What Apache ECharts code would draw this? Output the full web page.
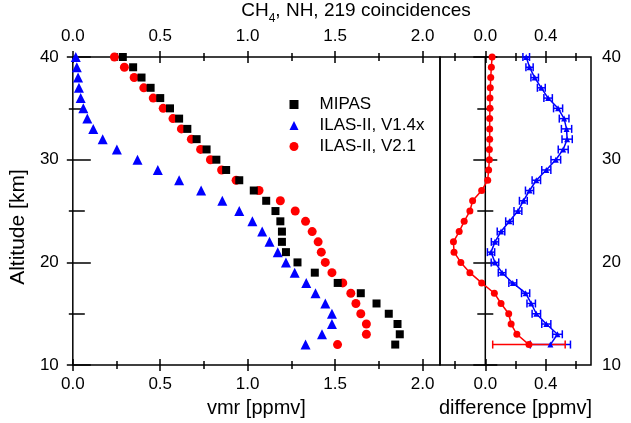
<!DOCTYPE html>
<html>
<head>
<meta charset="utf-8">
<script src="https://cdn.jsdelivr.net/npm/echarts@6/dist/echarts.min.js"></script>
<style>
  html, body { margin: 0; padding: 0; background: #fff; }
  #chart { width: 631px; height: 423px; }
</style>
</head>
<body>
<div id="chart"></div>
<script>
// altitude levels [km]
var altitude = [40, 39, 38, 37, 36, 35, 34, 33, 32, 31, 30, 29, 28, 27, 26, 25, 24, 23, 22, 21, 20, 19, 18, 17, 16, 15, 14, 13, 12];

// vmr profiles [ppmv]
var mipas = [0.286, 0.345, 0.393, 0.445, 0.500, 0.556, 0.608, 0.655, 0.708, 0.765, 0.821, 0.877, 0.952, 1.035, 1.106, 1.159, 1.187, 1.196, 1.196, 1.219, 1.285, 1.384, 1.515, 1.647, 1.737, 1.807, 1.857, 1.870, 1.844];
var ilasV14 = [0.017, 0.023, 0.030, 0.035, 0.045, 0.060, 0.083, 0.117, 0.171, 0.252, 0.370, 0.486, 0.608, 0.734, 0.855, 0.952, 1.027, 1.083, 1.125, 1.172, 1.219, 1.269, 1.335, 1.388, 1.444, 1.482, 1.482, 1.425, 1.331];
var ilasV21 = [0.238, 0.295, 0.351, 0.406, 0.460, 0.517, 0.573, 0.621, 0.678, 0.731, 0.787, 0.851, 0.934, 1.065, 1.187, 1.272, 1.331, 1.369, 1.403, 1.421, 1.444, 1.482, 1.544, 1.590, 1.619, 1.647, 1.679, 1.679, 1.514];

// differences MIPAS - ILAS [ppmv] and their error bars
var diffV14 = [0.271, 0.293, 0.327, 0.371, 0.416, 0.482, 0.522, 0.538, 0.542, 0.516, 0.467, 0.404, 0.338, 0.293, 0.252, 0.216, 0.160, 0.104, 0.064, 0.038, 0.064, 0.111, 0.182, 0.267, 0.304, 0.338, 0.404, 0.478, 0.431];
var errV14 = [0.022, 0.024, 0.025, 0.026, 0.028, 0.030, 0.032, 0.034, 0.034, 0.033, 0.032, 0.030, 0.028, 0.027, 0.026, 0.026, 0.025, 0.025, 0.024, 0.024, 0.025, 0.025, 0.026, 0.027, 0.028, 0.028, 0.030, 0.032, 0.133];
var diffV21 = [0.045, 0.040, 0.036, 0.033, 0.031, 0.031, 0.029, 0.029, 0.029, 0.027, 0.027, 0.022, 0.016, -0.024, -0.084, -0.102, -0.140, -0.173, -0.211, -0.207, -0.162, -0.102, -0.024, 0.060, 0.104, 0.155, 0.171, 0.209, 0.289];
var errV21 = [0, 0, 0, 0, 0, 0, 0, 0, 0, 0, 0, 0, 0, 0, 0, 0, 0, 0, 0, 0, 0, 0, 0, 0, 0, 0, 0, 0, 0.240];

// tick positions
var vmrMajor = [0, 0.5, 1.0, 1.5, 2.0];
var vmrMinor = [0.25, 0.75, 1.25, 1.75];
var diffMajor = [0, 0.4];
var diffMinor = [-0.2, 0.2, 0.6];
var altMajor = [10, 20, 30, 40];
var altMinor = [15, 25, 35];

var FONT = 'Liberation Sans, Arial, sans-serif';

function pairs(xs, extra) {
  return xs.map(function (x, i) {
    return extra ? [x, altitude[i], extra[i]] : [x, altitude[i]];
  });
}

// one set of ticks on one side; ticks cross the frame, so the axis is shifted inward
function axis(grid, pos, min, max, ticks, major, labelMargin) {
  var len = major ? 12 : 8;
  var off = major ? -6 : -4;
  return {
    type: 'value', gridIndex: grid, position: pos, min: min, max: max, offset: off,
    axisLine: { show: false },
    splitLine: { show: false },
    axisTick: { show: true, inside: false, length: len, customValues: ticks,
      lineStyle: { color: '#000', width: 1.5 } },
    axisLabel: labelMargin ? {
      show: true, customValues: ticks, margin: labelMargin,
      formatter: function (v) { return (pos === 'left' || pos === 'right') ? String(v) : v.toFixed(1); },
      color: '#000', fontSize: 17, fontFamily: FONT
    } : { show: false }
  };
}

var xAxes = [
  axis(0, 'bottom', 0, 2.1, vmrMajor, true, 17),
  axis(0, 'bottom', 0, 2.1, vmrMinor, false),
  axis(0, 'top', 0, 2.1, vmrMajor, true, 18),
  axis(0, 'top', 0, 2.1, vmrMinor, false),
  axis(1, 'bottom', -0.3, 0.7, diffMajor, true, 17),
  axis(1, 'bottom', -0.3, 0.7, diffMinor, false),
  axis(1, 'top', -0.3, 0.7, diffMajor, true, 18),
  axis(1, 'top', -0.3, 0.7, diffMinor, false)
];
xAxes[0].name = 'vmr [ppmv]';
xAxes[4].name = 'difference [ppmv]';
[xAxes[0], xAxes[4]].forEach(function (a) {
  a.nameLocation = 'middle';
  a.nameGap = 34;
  a.nameTextStyle = { color: '#000', fontSize: 20, fontFamily: FONT };
});

var yAxes = [
  axis(0, 'left', 10, 40, altMajor, true, 20),
  axis(0, 'left', 10, 40, altMinor, false),
  axis(0, 'right', 10, 40, altMajor, true),
  axis(0, 'right', 10, 40, altMinor, false),
  axis(1, 'left', 10, 40, altMajor, true),
  axis(1, 'left', 10, 40, altMinor, false),
  axis(1, 'right', 10, 40, altMajor, true, 17),
  axis(1, 'right', 10, 40, altMinor, false)
];
yAxes[0].name = 'Altitude [km]';
yAxes[0].nameLocation = 'middle';
yAxes[0].nameGap = 47;
yAxes[0].nameTextStyle = { color: '#000', fontSize: 21, fontFamily: FONT, padding: [0, 32, 0, 0] };

function errorBars(color) {
  return function (params, api) {
    var e = api.value(2);
    if (!e) return;
    var x = api.value(0), y = api.value(1);
    var l = api.coord([x - e, y]);
    var r = api.coord([x + e, y]);
    var st = { stroke: color, lineWidth: 1.5 };
    return {
      type: 'group',
      children: [
        { type: 'line', shape: { x1: l[0], y1: l[1], x2: r[0], y2: r[1] }, style: st },
        { type: 'line', shape: { x1: l[0], y1: l[1] - 4, x2: l[0], y2: l[1] + 4 }, style: st },
        { type: 'line', shape: { x1: r[0], y1: r[1] - 4, x2: r[0], y2: r[1] + 4 }, style: st }
      ]
    };
  };
}

var chart = echarts.init(document.getElementById('chart'), null, { renderer: 'canvas' });
var option = {
  animation: false,
  backgroundColor: '#fff',
  title: {
    text: '{a|CH}{s|4}{a|, NH, 219 coincidences}',
    left: 356, top: -4, padding: 0, textAlign: 'center',
    textStyle: {
      fontWeight: 'normal',
      rich: {
        a: { fontSize: 19, fontWeight: 'normal', fontFamily: FONT, color: '#000' },
        s: { fontSize: 12, fontWeight: 'normal', fontFamily: FONT, color: '#000', padding: [17, 0, 0, 0] }
      }
    }
  },
  legend: {
    data: [{ name: 'MIPAS', icon: 'rect' }, { name: 'ILAS-II, V1.4x', icon: 'triangle' }, { name: 'ILAS-II, V2.1', icon: 'circle' }],
    orient: 'vertical', left: 289.5, top: 95, padding: 0,
    itemWidth: 9, itemHeight: 9, itemGap: 2,
    textStyle: { color: '#000', fontSize: 17, fontFamily: FONT, lineHeight: 19, padding: [0, 0, 0, 16] }
  },
  grid: [
    { left: 67, top: 57, width: 373, height: 316, show: true, borderColor: '#000', borderWidth: 1.5 },
    { left: 440, top: 57, width: 151, height: 316, show: true, borderColor: '#000', borderWidth: 1.5 }
  ],
  xAxis: xAxes,
  yAxis: yAxes,
  series: [
    { name: 'ILAS-II, V1.4x', type: 'scatter', xAxisIndex: 0, yAxisIndex: 0, symbol: 'triangle', symbolSize: 10,
      itemStyle: { color: '#0000ff', opacity: 1 }, data: pairs(ilasV14) },
    { name: 'ILAS-II, V2.1', type: 'scatter', xAxisIndex: 0, yAxisIndex: 0, symbol: 'circle', symbolSize: 9,
      itemStyle: { color: '#ff0000', opacity: 1 }, data: pairs(ilasV21) },
    { name: 'MIPAS', type: 'scatter', xAxisIndex: 0, yAxisIndex: 0, symbol: 'rect', symbolSize: 8,
      itemStyle: { color: '#000', opacity: 1 }, data: pairs(mipas) },
    { name: 'zero', type: 'line', xAxisIndex: 4, yAxisIndex: 4, symbol: 'none',
      lineStyle: { color: '#000', width: 1.5 }, data: [[0, 10], [0, 40]] },
    { name: 'diff V1.4x', type: 'line', xAxisIndex: 4, yAxisIndex: 4, symbol: 'triangle', symbolSize: 6,
      itemStyle: { color: '#0000ff' }, lineStyle: { color: '#0000ff', width: 1.5 }, data: pairs(diffV14) },
    { name: 'err V1.4x', type: 'custom', xAxisIndex: 4, yAxisIndex: 4, renderItem: errorBars('#0000ff'),
      data: pairs(diffV14, errV14) },
    { name: 'diff V2.1', type: 'line', xAxisIndex: 4, yAxisIndex: 4, symbol: 'circle', symbolSize: 7,
      itemStyle: { color: '#ff0000' }, lineStyle: { color: '#ff0000', width: 1.5 }, data: pairs(diffV21) },
    { name: 'err V2.1', type: 'custom', xAxisIndex: 4, yAxisIndex: 4, renderItem: errorBars('#ff0000'),
      data: pairs(diffV21, errV21) }
  ]
};
chart.setOption(option);
</script>
</body>
</html>
